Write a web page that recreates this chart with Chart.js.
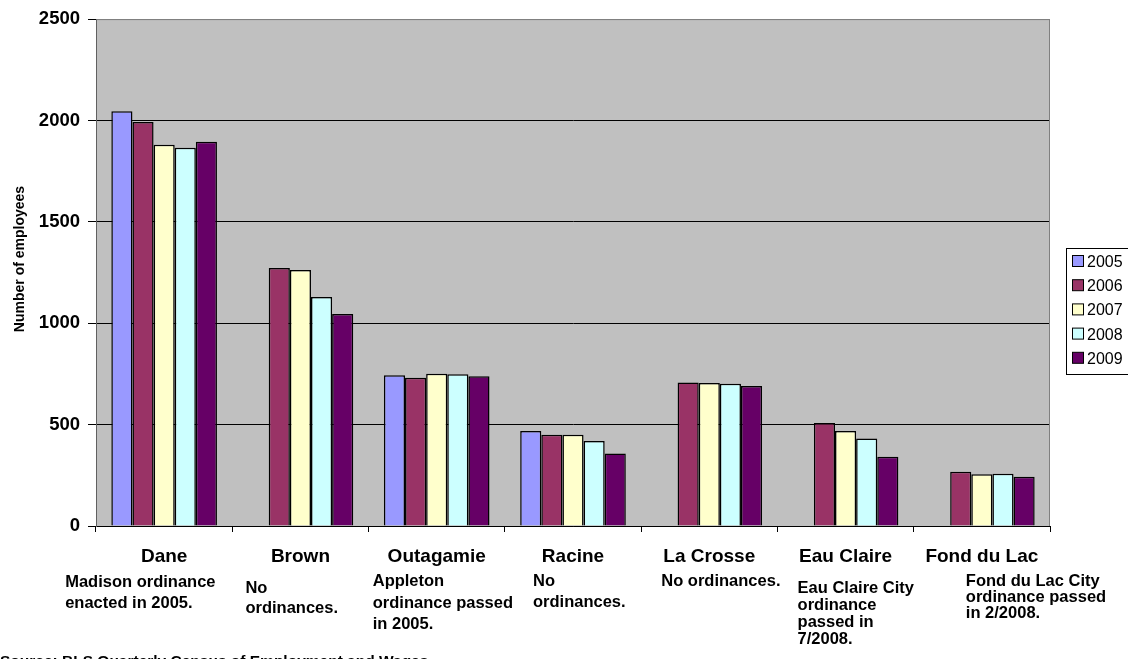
<!DOCTYPE html>
<html>
<head>
<meta charset="utf-8">
<script src="https://cdn.jsdelivr.net/npm/chart.js@4.4.1/dist/chart.umd.min.js"></script>
<style>
html,body{margin:0;padding:0;background:#fff;overflow:hidden;}
canvas{display:block;}
</style>
</head>
<body>
<canvas id="c" width="1128" height="659" style="width:1128px;height:659px"></canvas>
<script>
const counties = ["Dane", "Brown", "Outagamie", "Racine", "La Crosse", "Eau Claire", "Fond du Lac"];
const years = ["2005", "2006", "2007", "2008", "2009"];
const y2005 = [2045, null, 743, 468, null, null, null];
const y2006 = [1992, 1272, 731, 450, 708, 508, 268];
const y2007 = [1880, 1262, 751, 450, 705, 468, 255];
const y2008 = [1865, 1129, 748, 419, 702, 432, 258];
const y2009 = [1895, 1045, 738, 358, 690, 342, 243];
const yTicks = [0, 500, 1000, 1500, 2000, 2500];
const notes = [
  ["Madison ordinance", "enacted in 2005."],
  ["No", "ordinances."],
  ["Appleton", "ordinance passed", "in 2005."],
  ["No", "ordinances."],
  ["No ordinances."],
  ["Eau Claire City", "ordinance", "passed in", "7/2008."],
  ["Fond du Lac City", "ordinance passed", "in 2/2008."]
];
const yTitle = "Number of employees";
const source = "Source: BLS Quarterly Census of Employment and Wages";

// layout (not data)
const noteLayout = [
  {dx: -99, y0: 587, lh: 21},
  {dx: -55, y0: 593, lh: 20},
  {dx: -64, y0: 586, lh: 21.5},
  {dx: -40, y0: 586, lh: 21},
  {dx: -48, y0: 586, lh: 21},
  {dx: -48, y0: 593, lh: 17},
  {dx: -16, y0: 586, lh: 16}
];
const colors = ["#9999FF", "#993366", "#FFFFCC", "#CCFFFF", "#660066"];
const FONT = "'Liberation Sans', Arial, sans-serif";
const series = [y2005, y2006, y2007, y2008, y2009];

const bgPlugin = {
  id: 'bg',
  beforeDraw(chart) {
    const {ctx, chartArea: a} = chart;
    ctx.save();
    ctx.fillStyle = '#C0C0C0';
    ctx.fillRect(a.left, a.top, a.right - a.left, a.bottom - a.top);
    ctx.restore();
  },
  afterDraw(chart) {
    const {ctx, chartArea: a} = chart;
    ctx.save();
    ctx.strokeStyle = '#808080';
    ctx.lineWidth = 1;
    ctx.beginPath();
    ctx.moveTo(a.left + 0.5, a.top + 0.5);
    ctx.lineTo(a.right - 0.5, a.top + 0.5);
    ctx.lineTo(a.right - 0.5, a.bottom);
    ctx.stroke();

    const xs = chart.scales.x;
    ctx.fillStyle = '#000';
    ctx.textBaseline = 'alphabetic';
    ctx.textAlign = 'center';
    ctx.font = 'bold 19px ' + FONT;
    counties.forEach((c, i) => {
      ctx.fillText(c, xs.getPixelForValue(i), 562);
    });
    ctx.textAlign = 'left';
    ctx.font = 'bold 16.5px ' + FONT;
    notes.forEach((lines, i) => {
      const L = noteLayout[i];
      const cx = xs.getPixelForValue(i);
      lines.forEach((t, k) => ctx.fillText(t, cx + L.dx, L.y0 + k * L.lh));
    });
    ctx.font = 'bold 15.5px ' + FONT;
    ctx.fillText(source, 0, 666);
    ctx.save();
    ctx.translate(24, 259);
    ctx.rotate(-Math.PI / 2);
    ctx.textAlign = 'center';
    ctx.font = 'bold 14px ' + FONT;
    ctx.fillText(yTitle, 0, 0);
    ctx.restore();
    const lx = 1066.5, ly = 248.5;
    ctx.fillStyle = '#fff';
    ctx.fillRect(lx, ly, 80, 126);
    ctx.strokeStyle = '#000';
    ctx.lineWidth = 1;
    ctx.strokeRect(lx, ly, 80, 126);
    ctx.font = '16px ' + FONT;
    chart.data.datasets.forEach((d, i) => {
      const by = 267 + i * 24.2;
      ctx.fillStyle = d.backgroundColor;
      ctx.fillRect(1072.5, by - 11.5, 11, 11);
      ctx.strokeStyle = '#000';
      ctx.strokeRect(1072.5, by - 11.5, 11, 11);
      ctx.fillStyle = '#000';
      ctx.fillText(d.label, 1087, by);
    });
    ctx.restore();
  }
};

new Chart(document.getElementById('c'), {
  type: 'bar',
  data: {
    labels: counties,
    datasets: years.map((y, i) => ({
      label: y,
      data: series[i],
      backgroundColor: colors[i],
      borderColor: '#000',
      borderWidth: 1.5,
      borderSkipped: 'bottom',
      categoryPercentage: 0.775,
      barPercentage: 1
    }))
  },
  options: {
    responsive: false,
    animation: false,
    devicePixelRatio: 1,
    layout: {padding: {top: 19, right: 78, left: 0, bottom: 0}},
    plugins: {legend: {display: false}, tooltip: {enabled: false}},
    scales: {
      x: {
        offset: true,
        grid: {display: true, drawOnChartArea: false, drawTicks: true, tickLength: 6, color: '#000', offset: true},
        border: {display: true, color: '#000', width: 1},
        ticks: {display: false},
        afterFit(s) { s.height = 133; }
      },
      y: {
        min: 0, max: 2500,
        afterBuildTicks(s) { s.ticks = yTicks.map(v => ({value: v})); },
        ticks: {
          color: '#000',
          font: {family: FONT, size: 18.5, weight: 'bold'},
          padding: 8,
          autoSkip: false,
          callback: v => String(v)
        },
        grid: {
          color: ctx => ctx.tick && ctx.tick.value === 2500 ? '#808080' : '#000',
          lineWidth: 1,
          tickLength: 8,
          tickColor: '#000',
          drawTicks: true
        },
        border: {display: true, color: '#606060', width: 1},
        afterFit(s) { s.width = 96; }
      }
    }
  },
  plugins: [bgPlugin]
});
</script>
</body>
</html>
